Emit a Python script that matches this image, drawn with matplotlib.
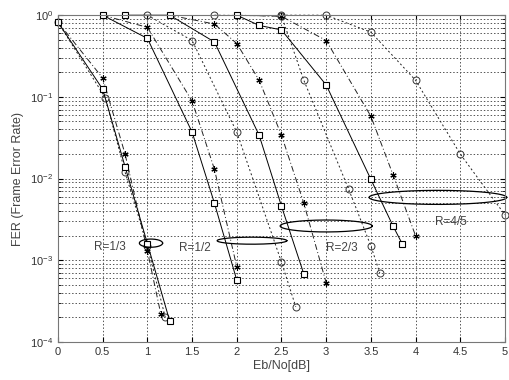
import numpy as np
import matplotlib.pyplot as plt

# R=1/3
s1_x = [0, 0.5, 0.75, 1.0, 1.25]
s1_y = [0.82, 0.124, 0.014, 0.0016, 1.8e-4]
t1_x = [0, 0.5, 0.75, 1.0, 1.15]
t1_y = [0.82, 0.17, 0.02, 0.0013, 2.2e-4]
c1_x = [0, 0.53, 0.75, 1.0, 1.2]
c1_y = [0.82, 0.097, 0.012, 0.0015, 2.0e-4]

# R=1/2
s2_x = [0.5, 1.0, 1.5, 1.75, 2.0]
s2_y = [1.0, 0.52, 0.037, 0.005, 5.7e-4]
t2_x = [0.5, 1.0, 1.5, 1.75, 2.0]
t2_y = [1.0, 0.71, 0.089, 0.013, 8.3e-4]
c2_x = [1.0, 1.5, 2.0, 2.5, 2.66]
c2_y = [1.0, 0.49, 0.037, 9.5e-4, 2.7e-4]

# R=2/3
s3_x = [0.75, 1.25, 1.75, 2.25, 2.5, 2.75]
s3_y = [1.0, 1.0, 0.47, 0.034, 0.0046, 6.8e-4]
t3_x = [1.25, 1.75, 2.0, 2.25, 2.5, 2.75, 3.0]
t3_y = [1.0, 0.78, 0.45, 0.16, 0.034, 0.005, 5.3e-4]
c3_x = [1.75, 2.5, 2.75, 3.25, 3.5, 3.6]
c3_y = [1.0, 0.98, 0.16, 0.0075, 0.0015, 7.0e-4]

# R=4/5
s4_x = [2.0, 2.25, 2.5, 3.0, 3.5, 3.75, 3.85]
s4_y = [1.0, 0.75, 0.66, 0.14, 0.0098, 0.0026, 0.0016]
t4_x = [2.0, 2.5, 3.0, 3.5, 3.75, 4.0]
t4_y = [1.0, 0.97, 0.49, 0.058, 0.011, 0.002]
c4_x = [2.5, 3.0, 3.5, 4.0, 4.5, 5.0]
c4_y = [1.0, 1.0, 0.62, 0.16, 0.02, 0.0036]

# rate labels and ellipses (ellipse centre y and half height in log10 decades)
rate_labels = ["R=1/3", "R=1/2", "R=2/3", "R=4/5"]
label_x = [0.58, 1.53, 3.17, 4.40]
label_y = [1.45e-3, 1.4e-3, 1.4e-3, 2.95e-3]
ell_cx = [1.04, 2.17, 3.0, 4.25]
ell_cy = [-2.79, -2.76, -2.58, -2.23]
ell_a = [0.13, 0.39, 0.515, 0.77]
ell_b = [0.05, 0.043, 0.073, 0.086]

plt.rcParams['font.family'] = ['Liberation Sans', 'DejaVu Sans']
fig = plt.figure(figsize=(5.09, 3.80), dpi=100)
ax = fig.add_axes([0.114, 0.10, 0.878, 0.86])

lw = 0.7
sq = dict(marker='s', ms=5, mfc='white', mec='black', mew=0.8, clip_on=False)
st = dict(marker=(6, 2, 0), ms=4.5, mec='black', mew=0.8, clip_on=False)
ci = dict(marker='o', ms=5, mfc='none', mec='#333333', mew=0.7, clip_on=False)

for x, y in [(c1_x, c1_y), (c2_x, c2_y), (c3_x, c3_y), (c4_x, c4_y)]:
    ax.semilogy(x, y, color='#222222', lw=lw, ls=(0, (2, 2.5)), **ci)
for x, y in [(t1_x, t1_y), (t2_x, t2_y), (t3_x, t3_y), (t4_x, t4_y)]:
    ax.semilogy(x, y, color='#222222', lw=lw, ls=(0, (6, 2.5, 1, 2.5)), **st)
for x, y in [(s1_x, s1_y), (s2_x, s2_y), (s3_x, s3_y), (s4_x, s4_y)]:
    ax.semilogy(x, y, color='black', lw=lw, ls='-', **sq)

t = np.linspace(0, 2 * np.pi, 200)
for i in range(4):
    ex = ell_cx[i] + ell_a[i] * np.cos(t)
    ey = 10 ** (ell_cy[i] + ell_b[i] * np.sin(t))
    ax.plot(ex, ey, color='black', lw=0.9, clip_on=False)
    ax.text(label_x[i], label_y[i], rate_labels[i], fontsize=8.5, color='#444444',
            ha='center', va='center')

ax.set_xlim(0, 5)
ax.set_ylim(1e-4, 1)
ax.set_xticks(np.arange(0, 5.01, 0.5))
ax.set_xticklabels(['0', '0.5', '1', '1.5', '2', '2.5', '3', '3.5', '4', '4.5', '5'])
ax.set_yticks([1e-4, 1e-3, 1e-2, 1e-1, 1])
ax.tick_params(which='both', direction='in', labelsize=8, top=True, right=True,
               labelcolor='#333333')
ax.grid(True, which='major', ls=(0, (1.5, 2)), color='#555555', lw=0.7)
ax.grid(True, which='minor', axis='y', ls=(0, (1.5, 2)), color='#555555', lw=0.7)
for sp in ax.spines.values():
    sp.set_color('#777777')

ax.set_xlabel("Eb/No[dB]", fontsize=9, color='#444444', labelpad=2)
ax.set_ylabel("FER (Frame Error Rate)", fontsize=9, color='#444444', labelpad=4)

plt.savefig("out.png")
